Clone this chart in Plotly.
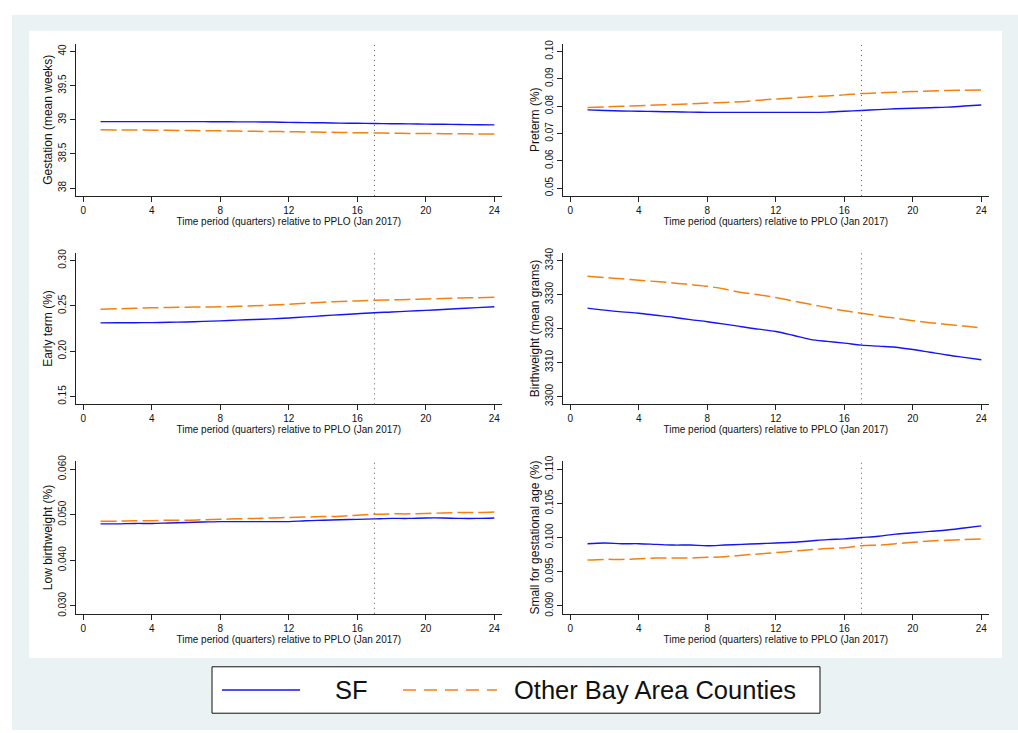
import plotly.graph_objects as go
from plotly.subplots import make_subplots

W, H = 1018, 733

quarters = list(range(1, 25))

gest_sf = [38.973, 38.973, 38.973, 38.973, 38.973, 38.973, 38.972, 38.970, 38.969, 38.968, 38.966, 38.962,
           38.958, 38.955, 38.951, 38.948, 38.945, 38.942, 38.939, 38.936, 38.933, 38.930, 38.927, 38.925]
gest_oth = [38.853, 38.851, 38.849, 38.847, 38.845, 38.843, 38.840, 38.837, 38.834, 38.831, 38.828, 38.825,
            38.822, 38.818, 38.814, 38.810, 38.806, 38.803, 38.800, 38.798, 38.796, 38.794, 38.792, 38.790]

pre_sf = [0.0786, 0.0784, 0.0782, 0.0781, 0.0780, 0.0779, 0.0778, 0.0777, 0.0777, 0.0777, 0.0777, 0.0777,
          0.0777, 0.0777, 0.0778, 0.0781, 0.0784, 0.0787, 0.0790, 0.0792, 0.0794, 0.0796, 0.0800, 0.0804]
pre_oth = [0.0795, 0.0797, 0.0799, 0.0801, 0.0804, 0.0806, 0.0808, 0.0811, 0.0813, 0.0816, 0.0821, 0.0826,
           0.0830, 0.0834, 0.0837, 0.0841, 0.0846, 0.0848, 0.0851, 0.0853, 0.0855, 0.0857, 0.0858, 0.0859]

early_sf = [0.2312, 0.2313, 0.2314, 0.2315, 0.2318, 0.2322, 0.2328, 0.2334, 0.2342, 0.2349, 0.2356, 0.2366,
            0.2378, 0.2390, 0.2402, 0.2412, 0.2424, 0.2432, 0.2441, 0.2450, 0.2460, 0.2470, 0.2480, 0.2489]
early_oth = [0.2461, 0.2467, 0.2473, 0.2478, 0.2482, 0.2485, 0.2487, 0.2489, 0.2494, 0.2500, 0.2509, 0.2518,
             0.2528, 0.2540, 0.2548, 0.2554, 0.2562, 0.2566, 0.2571, 0.2576, 0.2581, 0.2586, 0.2590, 0.2595]

bw_sf = [3326.0, 3325.4, 3324.9, 3324.5, 3323.9, 3323.3, 3322.6, 3322.0, 3321.3, 3320.5, 3319.8, 3319.1,
         3318.0, 3316.8, 3316.2, 3315.7, 3315.1, 3314.8, 3314.5, 3313.8, 3313.0, 3312.2, 3311.5, 3310.8]
bw_oth = [3335.4, 3335.0, 3334.6, 3334.2, 3333.8, 3333.4, 3332.9, 3332.4, 3331.6, 3330.6, 3329.9, 3329.1,
          3328.1, 3327.1, 3326.2, 3325.2, 3324.5, 3323.7, 3323.0, 3322.3, 3321.7, 3321.2, 3320.7, 3320.2]

lbw_sf = [0.0480, 0.0480, 0.0481, 0.0481, 0.0482, 0.0483, 0.0484, 0.0485, 0.0485, 0.0485, 0.0485, 0.0485,
          0.0487, 0.0488, 0.0489, 0.0490, 0.0491, 0.0492, 0.0492, 0.0493, 0.0493, 0.0492, 0.0492, 0.0493]
lbw_oth = [0.0486, 0.0486, 0.0487, 0.0487, 0.0488, 0.0488, 0.0489, 0.0490, 0.0491, 0.0492, 0.0493, 0.0494,
           0.0495, 0.0496, 0.0497, 0.0499, 0.0501, 0.0502, 0.0502, 0.0503, 0.0504, 0.0505, 0.0505, 0.0506]

sga_sf = [0.0991, 0.0992, 0.0991, 0.0991, 0.0990, 0.0989, 0.0989, 0.0988, 0.0989, 0.0990, 0.0991, 0.0992,
          0.0993, 0.0995, 0.0997, 0.0998, 0.1000, 0.1002, 0.1005, 0.1007, 0.1009, 0.1011, 0.1014, 0.1017]
sga_oth = [0.0967, 0.0968, 0.0968, 0.0969, 0.0970, 0.0970, 0.0970, 0.0971, 0.0972, 0.0974, 0.0976, 0.0978,
           0.0980, 0.0982, 0.0984, 0.0985, 0.0988, 0.0989, 0.0991, 0.0993, 0.0995, 0.0996, 0.0997, 0.0998]

y_titles = ["Gestation (mean weeks)", "Preterm (%)", "Early term (%)",
            "Birthweight (mean grams)", "Low birthweight (%)", "Small for gestational age (%)"]

y_tickvals = [
    [38, 38.5, 39, 39.5, 40],
    [0.05, 0.06, 0.07, 0.08, 0.09, 0.10],
    [0.15, 0.20, 0.25, 0.30],
    [3300, 3310, 3320, 3330, 3340],
    [0.030, 0.040, 0.050, 0.060],
    [0.090, 0.095, 0.100, 0.105, 0.110],
]
y_ticktext = [
    ["38", "38.5", "39", "39.5", "40"],
    ["0.05", "0.06", "0.07", "0.08", "0.09", "0.10"],
    ["0.15", "0.20", "0.25", "0.30"],
    ["3300", "3310", "3320", "3330", "3340"],
    ["0.030", "0.040", "0.050", "0.060"],
    ["0.090", "0.095", "0.100", "0.105", "0.110"],
]
x_tickvals = [0, 4, 8, 12, 16, 20, 24]
x_title = "Time period (quarters) relative to PPLO (Jan 2017)"
policy_quarter = 17
series_names = ["SF", "Other Bay Area Counties"]

sf_series = [gest_sf, pre_sf, early_sf, bw_sf, lbw_sf, sga_sf]
oth_series = [gest_oth, pre_oth, early_oth, bw_oth, lbw_oth, sga_oth]

BLUE = "#1414f5"
ORANGE = "#f5800f"
FONT = "Liberation Sans, Arial, Helvetica, sans-serif"

fig = make_subplots(rows=3, cols=2)

# layout geometry in pixels
col_px = [(75.7, 502.0), (562.7, 989.0)]
row_px = [(38.0, 192.3), (249.7, 403.3), (461.0, 615.3)]

for i in range(6):
    r, c = i // 2 + 1, i % 2 + 1
    fig.add_trace(go.Scatter(x=quarters, y=sf_series[i], mode="lines", name=series_names[0],
                             line=dict(color=BLUE, width=1.4, shape="spline"), showlegend=False),
                  row=r, col=c)
    fig.add_trace(go.Scatter(x=quarters, y=oth_series[i], mode="lines", name=series_names[1],
                             line=dict(color=ORANGE, width=1.5, dash="16px,5px", shape="spline"),
                             showlegend=False),
                  row=r, col=c)
    tv = y_tickvals[i]
    span = tv[-1] - tv[0]
    pad = span * 8.0 / 138.3
    x0, x1 = col_px[c - 1]
    top, bot = row_px[r - 1]
    axn = "" if i == 0 else str(i + 1)
    fig.layout["xaxis" + axn].update(
        domain=[x0 / W, x1 / W], range=[-0.45, 24.45], tickvals=x_tickvals,
        showline=True, linecolor="#222", linewidth=1, ticks="outside", ticklen=5,
        tickcolor="#222", showgrid=False, zeroline=False,
        tickfont=dict(size=10, color="#111", family=FONT),
        title=dict(text=x_title, font=dict(size=10, color="#111", family=FONT), standoff=2),
    )
    fig.layout["yaxis" + axn].update(
        domain=[1 - bot / H, 1 - top / H], range=[tv[0] - pad, tv[-1] + pad],
        tickvals=tv, ticktext=y_ticktext[i], tickangle=-90,
        showline=True, linecolor="#222", linewidth=1, ticks="outside", ticklen=5,
        tickcolor="#222", showgrid=False, zeroline=False,
        tickfont=dict(size=10, color="#111", family=FONT),
        title=dict(text=y_titles[i], font=dict(size=12, color="#111", family=FONT), standoff=1),
    )
    fig.add_shape(type="line", xref="x" + axn, yref="y" + axn + " domain",
                  x0=policy_quarter, x1=policy_quarter, y0=0, y1=1,
                  line=dict(color="#555", width=1, dash="1px,4px"))

# background panels
fig.add_shape(type="rect", xref="paper", yref="paper", layer="below",
              x0=12 / W, x1=1.0, y0=0, y1=1 - 9 / H,
              fillcolor="#eaf2f3", line=dict(width=0))
fig.add_shape(type="rect", xref="paper", yref="paper", layer="below",
              x0=29 / W, x1=1002 / W, y0=1 - 660 / H, y1=1 - 25 / H,
              fillcolor="white", line=dict(width=0))

# legend box (drawn manually to reproduce long key samples)
lg_top, lg_bot = 669, 716
lg_mid = (lg_top + lg_bot) / 2
fig.add_shape(type="rect", xref="paper", yref="paper",
              x0=212 / W, x1=820 / W, y0=1 - lg_bot / H, y1=1 - lg_top / H,
              fillcolor="white", line=dict(color="#111", width=1))
fig.add_shape(type="line", xref="paper", yref="paper",
              x0=222 / W, x1=300 / W, y0=1 - lg_mid / H, y1=1 - lg_mid / H,
              line=dict(color=BLUE, width=1.6))
fig.add_shape(type="line", xref="paper", yref="paper",
              x0=403 / W, x1=497 / W, y0=1 - lg_mid / H, y1=1 - lg_mid / H,
              line=dict(color=ORANGE, width=1.6, dash="13px,8px"))
fig.add_annotation(xref="paper", yref="paper", x=333 / W, y=1 - lg_mid / H, xanchor="left",
                   yanchor="middle", showarrow=False, text=series_names[0],
                   font=dict(size=25.5, color="#111", family=FONT))
fig.add_annotation(xref="paper", yref="paper", x=512 / W, y=1 - lg_mid / H, xanchor="left",
                   yanchor="middle", showarrow=False, text=series_names[1],
                   font=dict(size=25.5, color="#111", family=FONT))

fig.update_layout(
    width=W, height=H, margin=dict(l=0, r=0, t=0, b=0),
    paper_bgcolor="white", plot_bgcolor="white", showlegend=False,
    font=dict(family=FONT, color="#111"),
)

fig.write_html("out.html", config={"displayModeBar": False},
               post_script="document.body.style.margin='0';document.body.style.overflow='hidden';")
